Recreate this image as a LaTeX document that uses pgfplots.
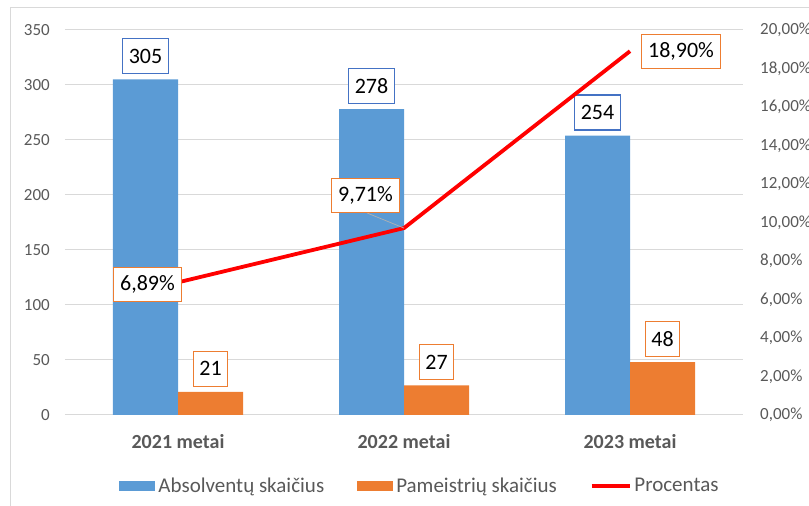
\documentclass[border=0pt]{standalone}
\usepackage{fontspec}
\setmainfont{Carlito}
\usepackage{pgfplots}
\pgfplotsset{compat=1.18}
\definecolor{barblue}{HTML}{5B9BD5}
\definecolor{barorange}{HTML}{ED7D31}
\definecolor{boxblue}{HTML}{4472C4}
\definecolor{gridgray}{HTML}{D9D9D9}
\definecolor{txtgray}{HTML}{595959}
\begin{document}
\begin{tikzpicture}
\useasboundingbox (0,0) rectangle (809pt,506pt);
\draw[gridgray, line width=1pt] (10.5pt,-5pt) -- (10.5pt,498pt) -- (815pt,498pt);
\begin{axis}[
  at={(65pt,91pt)}, anchor=south west,
  scale only axis, width=678pt, height=385pt,
  clip=false,
  xmin=-0.5, xmax=2.5, ymin=0, ymax=350,
  ytick={0,50,...,350},
  xtick={0,1,2}, xticklabels={2021 metai,2022 metai,2023 metai},
  axis line style={draw=none},
  ymajorgrids, grid style={gridgray, line width=1pt},
  major tick length=0pt,
  /pgf/number format/assume math mode=true,
  tick label style={text=txtgray, font=\fontsize{17}{20}\selectfont},
  yticklabel style={inner sep=0pt, anchor=east, xshift=-15pt},
  xticklabel style={font=\fontsize{20}{24}\selectfont\bfseries, inner sep=0pt, anchor=north, yshift=-19pt},
  legend style={at={(0.5,0)}, anchor=center, xshift=16.5pt, yshift=-71pt,
    draw=none, fill=none, font=\fontsize{21}{25}\selectfont, text=txtgray,
    inner sep=0pt, nodes={inner xsep=3pt, inner ysep=0pt},
    /tikz/every even column/.append style={column sep=30pt}},
  legend columns=3,
]
\addplot[ybar, bar width=65pt, bar shift=-32.5pt, fill=barblue, draw=none,
  legend image code/.code={\fill[barblue] (0pt,-5pt) rectangle (36pt,5pt);},
  nodes near coords,
  every node near coord/.append style={draw=boxblue, fill=white, line width=1.2pt, text=black,
    font=\fontsize{22}{26}\selectfont, inner xsep=6pt, minimum height=35pt, anchor=south,
    xshift=-32.5pt, yshift=5pt}]
  coordinates {(0,305) (1,278) (2,254)};
\addlegendentry{Absolventų skaičius}
\addplot[ybar, bar width=65pt, bar shift=32.5pt, fill=barorange, draw=none,
  legend image code/.code={\fill[barorange] (0pt,-5pt) rectangle (36pt,5pt);},
  nodes near coords,
  every node near coord/.append style={draw=barorange, fill=white, line width=1.2pt, text=black,
    font=\fontsize{22}{26}\selectfont, inner xsep=6pt, minimum height=35pt, anchor=south,
    xshift=32.5pt, yshift=5pt}]
  coordinates {(0,21) (1,27) (2,48)};
\addlegendentry{Pameistrių skaičius}
\addlegendimage{legend image code/.code={\draw[red, line width=3.5pt] (0pt,0pt) -- (38pt,0pt);}}
\addlegendentry{Procentas}
\end{axis}
\begin{axis}[
  at={(65pt,91pt)}, anchor=south west,
  scale only axis, width=678pt, height=385pt,
  clip=false,
  xmin=-0.5, xmax=2.5, ymin=0, ymax=20,
  axis y line*=right, axis x line=none,
  axis line style={draw=none},
  ytick={0,2,...,20},
  major tick length=0pt,
  /pgf/number format/assume math mode=true,
  yticklabel={\pgfmathprintnumber[fixed, fixed zerofill, precision=2, use comma]{\tick}\%},
  tick label style={text=txtgray, font=\fontsize{17}{20}\selectfont},
  yticklabel style={inner sep=0pt, anchor=west, xshift=17pt},
]
\addplot[red, line width=3.8pt, line join=round] coordinates {(0,6.89) (1,9.71) (2,18.9)};
\tikzset{pctbox/.style={draw=barorange, fill=white, line width=1.2pt, text=black,
    font=\fontsize{22}{26}\selectfont, inner xsep=6.5pt, minimum height=34pt}}
\node[pctbox, xshift=-30.5pt, yshift=-2pt] at (axis cs:0,6.89) {6,89\%};
\node[pctbox, xshift=-38.5pt, yshift=32.5pt] (p2) at (axis cs:1,9.71) {9,71\%};
\draw[gray!60, line width=0.7pt] ([xshift=2pt]p2.south) -- (axis cs:1,9.71);
\node[pctbox, xshift=51pt] at (axis cs:2,18.9) {18,90\%};
\end{axis}
\end{tikzpicture}
\end{document}
